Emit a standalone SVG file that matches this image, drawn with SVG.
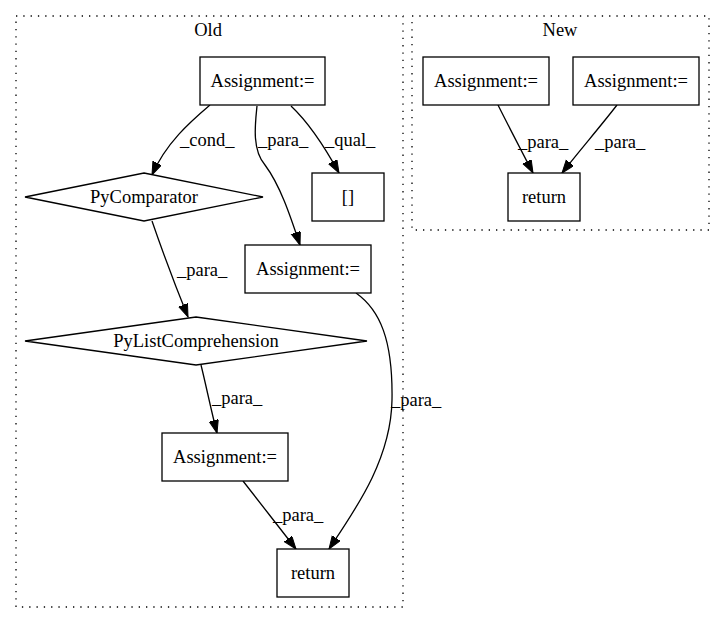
<svg xmlns="http://www.w3.org/2000/svg" width="725" height="624" viewBox="0 0 725 624">
<style>
text{font-family:"Liberation Serif","Times New Roman",serif;font-size:18.5px;fill:#000}
.c{text-anchor:middle}
.n{fill:#fff;stroke:#000;stroke-width:1.3}
.cl{fill:none;stroke:#000;stroke-width:1.3;stroke-dasharray:1.3,6}
.e{fill:none;stroke:#000;stroke-width:1.3;marker-end:url(#ah)}
</style>
<defs>
<marker id="ah" markerUnits="userSpaceOnUse" markerWidth="15" markerHeight="12" refX="13" refY="4.7" orient="auto">
<path d="M0,0 L13,4.7 L0,9.4 Z" fill="#000" stroke="#000" stroke-width="1"/>
</marker>
</defs>
<rect width="725" height="624" fill="#fff"/>
<g id="cluster_old">
<rect class="cl" x="16" y="16" width="387" height="591"/>
<text class="c" x="208" y="36">Old</text>
</g>
<g id="cluster_new">
<rect class="cl" x="412" y="16" width="297" height="214"/>
<text class="c" x="560" y="36">New</text>
</g>
<g id="connectors">
<path class="e" d="M210,105 C190,122 166,143 152,175"/>
<path class="e" d="M257,106 C255,125 252,150 265,165 C280,185 290,215 300,245"/>
<path class="e" d="M291,106 C307,121 322,142 339,173"/>
<path class="e" d="M152,221 C162,250 175,285 188,317"/>
<path class="e" d="M356,293 C380,310 393,340 392,400 C391,460 355,510 329,549"/>
<path class="e" d="M201,365 C206,385 211,410 217,433"/>
<path class="e" d="M243,481 C260,503 279,527 296,549"/>
<path class="e" d="M498,105 C509,127 521,150 533,173"/>
<path class="e" d="M617,105 C600,127 580,150 562,173"/>
<text x="180" y="146">_cond_</text>
<text x="258" y="146">_para_</text>
<text x="325" y="146">_qual_</text>
<text x="177" y="276">_para_</text>
<text x="391" y="406">_para_</text>
<text x="212" y="404">_para_</text>
<text x="273" y="521">_para_</text>
<text x="518" y="148">_para_</text>
<text x="595" y="148">_para_</text>
</g>
<g id="old_assign_top">
<rect class="n" x="200" y="57" width="125" height="48"/>
<text class="c" x="262.5" y="87">Assignment:=</text>
</g>
<g id="old_pycomparator">
<polygon class="n" points="144,173 263,197 144,221 25,197"/>
<text class="c" x="144" y="203">PyComparator</text>
</g>
<g id="old_brackets">
<rect class="n" x="312" y="173" width="72" height="48"/>
<text class="c" x="348" y="203">[]</text>
</g>
<g id="old_assign_mid">
<rect class="n" x="245" y="245" width="126" height="48"/>
<text class="c" x="308" y="275">Assignment:=</text>
</g>
<g id="old_pylistcomp">
<polygon class="n" points="196,317 367,341 196,365 25,341"/>
<text class="c" x="196" y="347">PyListComprehension</text>
</g>
<g id="old_assign_low">
<rect class="n" x="162" y="433" width="126" height="48"/>
<text class="c" x="225" y="463">Assignment:=</text>
</g>
<g id="old_return">
<rect class="n" x="277" y="549" width="72" height="48"/>
<text class="c" x="313" y="579">return</text>
</g>
<g id="new_assign_left">
<rect class="n" x="423" y="57" width="126" height="48"/>
<text class="c" x="486" y="87">Assignment:=</text>
</g>
<g id="new_assign_right">
<rect class="n" x="573" y="57" width="126" height="48"/>
<text class="c" x="636" y="87">Assignment:=</text>
</g>
<g id="new_return">
<rect class="n" x="508" y="173" width="72" height="48"/>
<text class="c" x="544" y="203">return</text>
</g>
</svg>
